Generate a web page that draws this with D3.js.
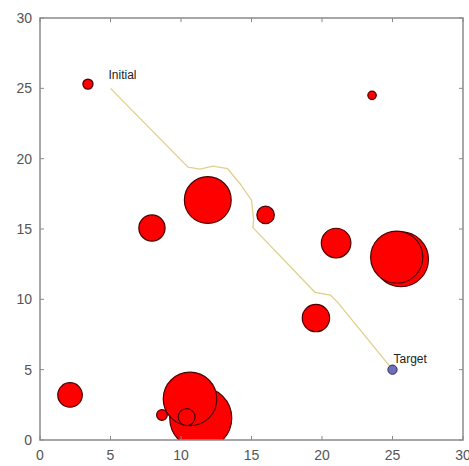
<!DOCTYPE html>
<html><head><meta charset="utf-8">
<script src="https://cdn.jsdelivr.net/npm/d3@7"></script>
<style>body{margin:0;background:#fff}svg{display:block}</style>
</head><body>
<svg id="c" width="469" height="466"></svg>
<script>
// obstacle circles (data units)
const obsX = [11.4, 10.64, 8.65, 10.4, 2.13, 3.4, 23.55, 11.9, 7.94, 16.0, 21.0, 25.6, 25.3, 19.57];
const obsY = [1.56, 2.92, 1.78, 1.63, 3.2, 25.3, 24.5, 17.06, 15.07, 16.0, 14.0, 12.85, 13.0, 8.67];
const obsR = [2.2, 1.9, 0.38, 0.6, 0.87, 0.36, 0.3, 1.66, 0.93, 0.62, 1.05, 1.95, 1.85, 0.97];
// planned path
const pathX = [5, 10.5, 11.35, 12.27, 13.3, 14.2, 15.0, 15.15, 15.1, 19.5, 20.6, 21.1, 25];
const pathY = [25, 19.4, 19.26, 19.47, 19.3, 18.2, 17.05, 15.7, 15.1, 10.5, 10.3, 9.8, 5];
const startPt = [5, 25];
const targetPt = [25, 5];
const targetR = 0.33;
const labels = ["Initial", "Target"];
const xTicks = [0, 5, 10, 15, 20, 25, 30];
const yTicks = [0, 5, 10, 15, 20, 25, 30];

const svg = d3.select("#c");
const L = 40, R = 463, T = 18, B = 440;
const x = d3.scaleLinear().domain([0, 30]).range([L, R]);
const y = d3.scaleLinear().domain([0, 30]).range([B, T]);
const rs = d => x(d) - x(0);

svg.append("defs").append("clipPath").attr("id", "clip")
  .append("rect").attr("x", L).attr("y", T).attr("width", R - L).attr("height", B - T);

const g = svg.append("g").attr("clip-path", "url(#clip)");

g.selectAll("circle.obs").data(obsX.map((v, i) => ({x: v, y: obsY[i], r: obsR[i]})))
  .enter().append("circle").attr("class", "obs")
  .attr("cx", d => x(d.x)).attr("cy", d => y(d.y)).attr("r", d => rs(d.r))
  .attr("fill", "#ff0000").attr("stroke", "#4a0000").attr("stroke-width", 1.2);

const line = d3.line().x(d => x(d[0])).y(d => y(d[1]));
g.append("path").datum(pathX.map((v, i) => [v, pathY[i]]))
  .attr("d", line).attr("fill", "none").attr("stroke", "#e2cf8a").attr("stroke-width", 1.3);

g.append("circle").attr("cx", x(targetPt[0])).attr("cy", y(targetPt[1])).attr("r", rs(targetR))
  .attr("fill", "#6f6fb8").attr("stroke", "#2a2a60").attr("stroke-width", 1);

svg.append("text").attr("x", x(startPt[0]) - 2).attr("y", y(startPt[1]) - 9)
  .attr("font-family", "Liberation Sans, Arial, sans-serif").attr("font-size", 12).attr("fill", "#222")
  .text(labels[0]);
svg.append("text").attr("x", x(targetPt[0]) + 1).attr("y", y(targetPt[1]) - 7)
  .attr("font-family", "Liberation Sans, Arial, sans-serif").attr("font-size", 12).attr("fill", "#222")
  .text(labels[1]);

// axes (box with inward ticks on all sides)
const axisColor = "#8a8a8a";
const tk = 4;
const ax = svg.append("g");
ax.append("rect").attr("x", L).attr("y", T).attr("width", R - L).attr("height", B - T)
  .attr("fill", "none").attr("stroke", axisColor).attr("stroke-width", 1.5);
xTicks.forEach(t => {
  ax.append("line").attr("x1", x(t)).attr("x2", x(t)).attr("y1", B).attr("y2", B - tk).attr("stroke", axisColor);
  ax.append("line").attr("x1", x(t)).attr("x2", x(t)).attr("y1", T).attr("y2", T + tk).attr("stroke", axisColor);
  ax.append("text").attr("x", x(t)).attr("y", B + 20).attr("text-anchor", "middle")
    .attr("font-family", "Liberation Sans, Arial, sans-serif").attr("font-size", 14).attr("fill", "#555").text(t);
});
yTicks.forEach(t => {
  ax.append("line").attr("y1", y(t)).attr("y2", y(t)).attr("x1", L).attr("x2", L + tk).attr("stroke", axisColor);
  ax.append("line").attr("y1", y(t)).attr("y2", y(t)).attr("x1", R).attr("x2", R - tk).attr("stroke", axisColor);
  ax.append("text").attr("x", L - 8).attr("y", y(t) + 5).attr("text-anchor", "end")
    .attr("font-family", "Liberation Sans, Arial, sans-serif").attr("font-size", 14).attr("fill", "#555").text(t);
});
</script>
</body></html>
